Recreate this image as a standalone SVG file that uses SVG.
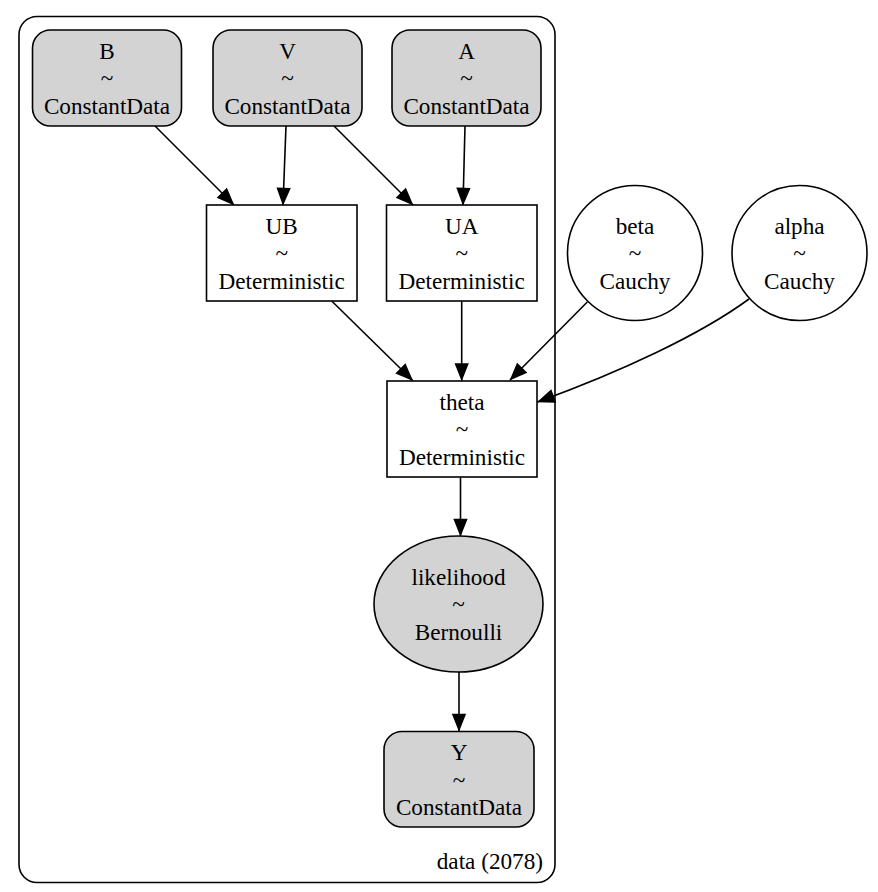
<svg xmlns="http://www.w3.org/2000/svg" width="878" height="892" viewBox="0 0 878 892" font-family="'Liberation Serif', 'Times New Roman', serif">
<style>
text { font-family: "Liberation Serif", "Times New Roman", serif; font-size: 23.2px; text-anchor: middle; fill: #000; }
.shape { stroke: #000; stroke-width: 1.6; }
.data { fill: #d3d3d3; }
.plain { fill: #fff; }
.edge { fill: none; stroke: #000; stroke-width: 1.6; marker-end: url(#ah); }
</style>
<defs>
<marker id="ah" markerUnits="userSpaceOnUse" markerWidth="24" markerHeight="16" refX="16.5" refY="6" orient="auto" overflow="visible">
<path d="M0,0 L15,6 L0,12 z" fill="#000" stroke="#000" stroke-width="1.6"/>
</marker>
</defs>
<rect width="878" height="892" fill="#fff"/>
<g id="cluster_data">
<rect x="19" y="16.5" width="536" height="866" rx="18" ry="18" fill="none" stroke="#000" stroke-width="1.6"/>
<text x="543" y="869" style="text-anchor:end">data (2078)</text>
</g>
<g id="edges">
<path class="edge" d="M155,126 L234,205"/>
<path class="edge" d="M286,126 L283,205"/>
<path class="edge" d="M334,126 L413,205"/>
<path class="edge" d="M465,126 L463,205"/>
<path class="edge" d="M331.7,301 L412.7,380.5"/>
<path class="edge" d="M461.7,301 L461.7,380.5"/>
<path class="edge" d="M587.3,302 L510,380"/>
<path class="edge" d="M749,299 C700,335 620,372 537.5,402"/>
<path class="edge" d="M460.5,477 L460.5,536"/>
<path class="edge" d="M459,672 L459,731"/>
</g>
<g id="B">
<rect class="shape data" x="32.5" y="30" width="149" height="96" rx="18" ry="18"/>
<text x="107" y="58.5">B</text><text x="107" y="86">~</text><text x="107" y="113.5">ConstantData</text>
</g>
<g id="V">
<rect class="shape data" x="213" y="30" width="149" height="96" rx="18" ry="18"/>
<text x="287.5" y="58.5">V</text><text x="287.5" y="86">~</text><text x="287.5" y="113.5">ConstantData</text>
</g>
<g id="A">
<rect class="shape data" x="392" y="30" width="149" height="96" rx="18" ry="18"/>
<text x="466.5" y="58.5">A</text><text x="466.5" y="86">~</text><text x="466.5" y="113.5">ConstantData</text>
</g>
<g id="UB">
<rect class="shape plain" x="206.5" y="205" width="150.5" height="96"/>
<text x="281.7" y="233.5">UB</text><text x="281.7" y="261">~</text><text x="281.7" y="288.5">Deterministic</text>
</g>
<g id="UA">
<rect class="shape plain" x="386.5" y="205" width="150.5" height="96"/>
<text x="461.7" y="233.5">UA</text><text x="461.7" y="261">~</text><text x="461.7" y="288.5">Deterministic</text>
</g>
<g id="beta">
<circle class="shape plain" cx="635" cy="253" r="67.5"/>
<text x="635" y="233.5">beta</text><text x="635" y="261">~</text><text x="635" y="288.5">Cauchy</text>
</g>
<g id="alpha">
<circle class="shape plain" cx="799.5" cy="253" r="67.5"/>
<text x="799.5" y="233.5">alpha</text><text x="799.5" y="261">~</text><text x="799.5" y="288.5">Cauchy</text>
</g>
<g id="theta">
<rect class="shape plain" x="387" y="381" width="150" height="96"/>
<text x="462" y="409.5">theta</text><text x="462" y="437">~</text><text x="462" y="464.5">Deterministic</text>
</g>
<g id="likelihood">
<ellipse class="shape data" cx="458.5" cy="604" rx="84.5" ry="68"/>
<text x="458.5" y="584.5">likelihood</text><text x="458.5" y="612">~</text><text x="458.5" y="639.5">Bernoulli</text>
</g>
<g id="Y">
<rect class="shape data" x="384" y="731.5" width="150" height="95.5" rx="18" ry="18"/>
<text x="459" y="760">Y</text><text x="459" y="787.5">~</text><text x="459" y="815">ConstantData</text>
</g>
</svg>
